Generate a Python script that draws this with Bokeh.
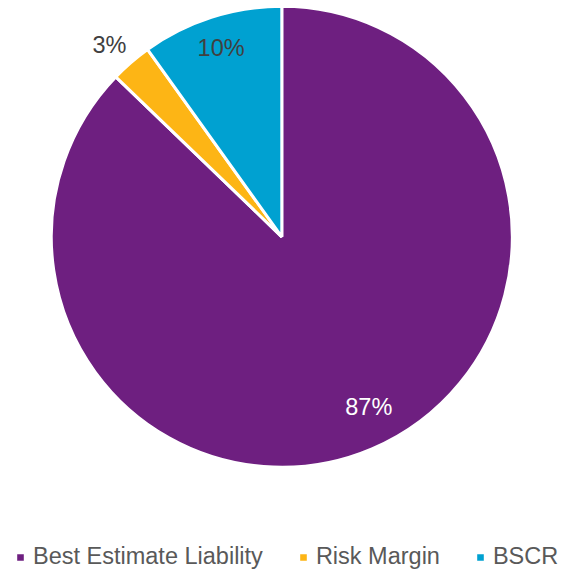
import math
from bokeh.plotting import figure
from bokeh.models import ColumnDataSource, Legend, LegendItem, Range1d
from bokeh.core.properties import value
from bokeh.embed import file_html
from bokeh.resources import INLINE

categories = ["Best Estimate Liability", "Risk Margin", "BSCR"]
shares = [87.2, 2.9, 9.9]
colors = ["#6E1F80", "#FDB515", "#00A1D1"]
label_colors = ["#FFFFFF", "#404040", "#404040"]

# styling
W, H = 564, 571
CX, CY, R = 281.3, 334.7, 230.5
label_radius = [0.83, 1.12, 0.86]
label_nudge_deg = [4.0, 1.0, 0.0]
FONT = "Liberation Sans"

total = sum(shares)
starts, ends, lx, ly, labels = [], [], [], [], []
cum = 0.0
for i, s in enumerate(shares):
    a_end = math.pi / 2 - 2 * math.pi * cum / total
    cum += s
    a_start = math.pi / 2 - 2 * math.pi * cum / total
    starts.append(a_start)
    ends.append(a_end)
    mid = (a_start + a_end) / 2 + math.radians(label_nudge_deg[i])
    lx.append(CX + label_radius[i] * R * math.cos(mid))
    ly.append(CY + label_radius[i] * R * math.sin(mid))
    labels.append(f"{round(s / total * 100)}%")

src = ColumnDataSource(dict(cat=categories, start=starts, end=ends, color=colors,
                            lx=lx, ly=ly, label=labels, lcolor=label_colors))

p = figure(width=W, height=H, output_backend="svg", toolbar_location=None,
           x_range=Range1d(0, W), y_range=Range1d(0, H), min_border=0)
p.axis.visible = False
p.grid.visible = False
p.outline_line_color = None
p.background_fill_color = "white"
p.border_fill_color = "white"

wedges = p.wedge(x=CX, y=CY, radius=R, start_angle="start", end_angle="end",
                 direction="anticlock", fill_color="color", line_color="white",
                 line_width=3, source=src)

p.text(x="lx", y="ly", text="label", text_color="lcolor", source=src,
       text_align="center", text_baseline="middle",
       text_font=value(FONT), text_font_size="23.5px")

items = [LegendItem(label=c, renderers=[wedges], index=i)
         for i, c in enumerate(categories)]

legend = Legend(items=items, orientation="horizontal", location=(14, 1),
                glyph_width=12, glyph_height=12, label_standoff=7, spacing=34,
                padding=0, margin=0, border_line_color=None,
                background_fill_alpha=0,
                label_text_font=FONT, label_text_font_size="23.5px",
                label_text_color="#595959")
p.add_layout(legend, "center")

open("out.html", "w").write(file_html(p, INLINE))
